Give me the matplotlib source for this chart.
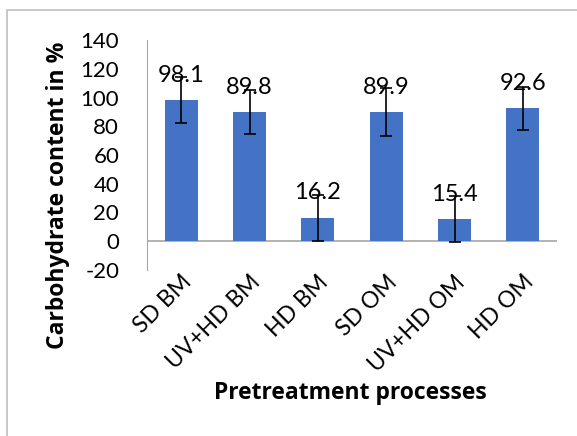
import matplotlib
matplotlib.use("Agg")
import matplotlib.pyplot as plt
from matplotlib.lines import Line2D

categories = ["SD BM", "UV+HD BM", "HD BM", "SD OM", "UV+HD OM", "HD OM"]
values = [98.1, 89.8, 16.2, 89.9, 15.4, 92.6]
errors = [16, 15.5, 16, 17, 16, 15]
yticks = [-20, 0, 20, 40, 60, 80, 100, 120, 140]

font = "Lato"
tfont = "Open Sans"
W, H = 577, 436
fig = plt.figure(figsize=(W/100, H/100), dpi=100)
ax = fig.add_axes([147/W, 1-270/H, 410/W, 230/H])

x = list(range(len(categories)))
ax.bar(x, values, width=0.48, color="#4472C4", zorder=2)
ax.errorbar(x, values, yerr=errors, fmt="none", ecolor="black", elinewidth=1.2,
            capsize=4, capthick=1.2, zorder=3)
for xi, v in zip(x, values):
    ax.annotate(f"{v}", (xi, v), xytext=(0, 18), textcoords="offset points",
                ha="center", va="center", fontsize=17, family=font, zorder=4)

ax.set_xlim(-0.5, len(categories) - 0.5)
ax.set_ylim(-20, 140)
ax.set_yticks(yticks)
ax.set_yticklabels([str(t) for t in yticks], fontsize=16, family=font)
ax.tick_params(axis="y", length=0, pad=20)
ax.set_xticks(x)
ax.set_xticklabels(categories, rotation=45, ha="right", rotation_mode="anchor",
                   fontsize=16.5, family=font)
ax.tick_params(axis="x", length=0, pad=1)

for s in ["top", "right", "bottom"]:
    ax.spines[s].set_visible(False)
ax.spines["left"].set_color("#A6A6A6")
ax.axhline(0, color="#A6A6A6", lw=1.2, zorder=1)

fig.text(58/W, 1-195/H, "Carbohydrate content in %", rotation=90,
         ha="center", va="center", fontsize=16.5, family=tfont, fontweight="bold")
fig.text(350/W, 1-393/H, "Pretreatment processes",
         ha="center", va="center", fontsize=16.5, family=tfont, fontweight="bold")

# chart-area border (left and top visible)
fig.add_artist(Line2D([7/W, 7/W, 1.0], [0.0, 1-10/H, 1-10/H],
                      transform=fig.transFigure, color="#BFBFBF", lw=1.2))

fig.savefig("out.png", dpi=100)
